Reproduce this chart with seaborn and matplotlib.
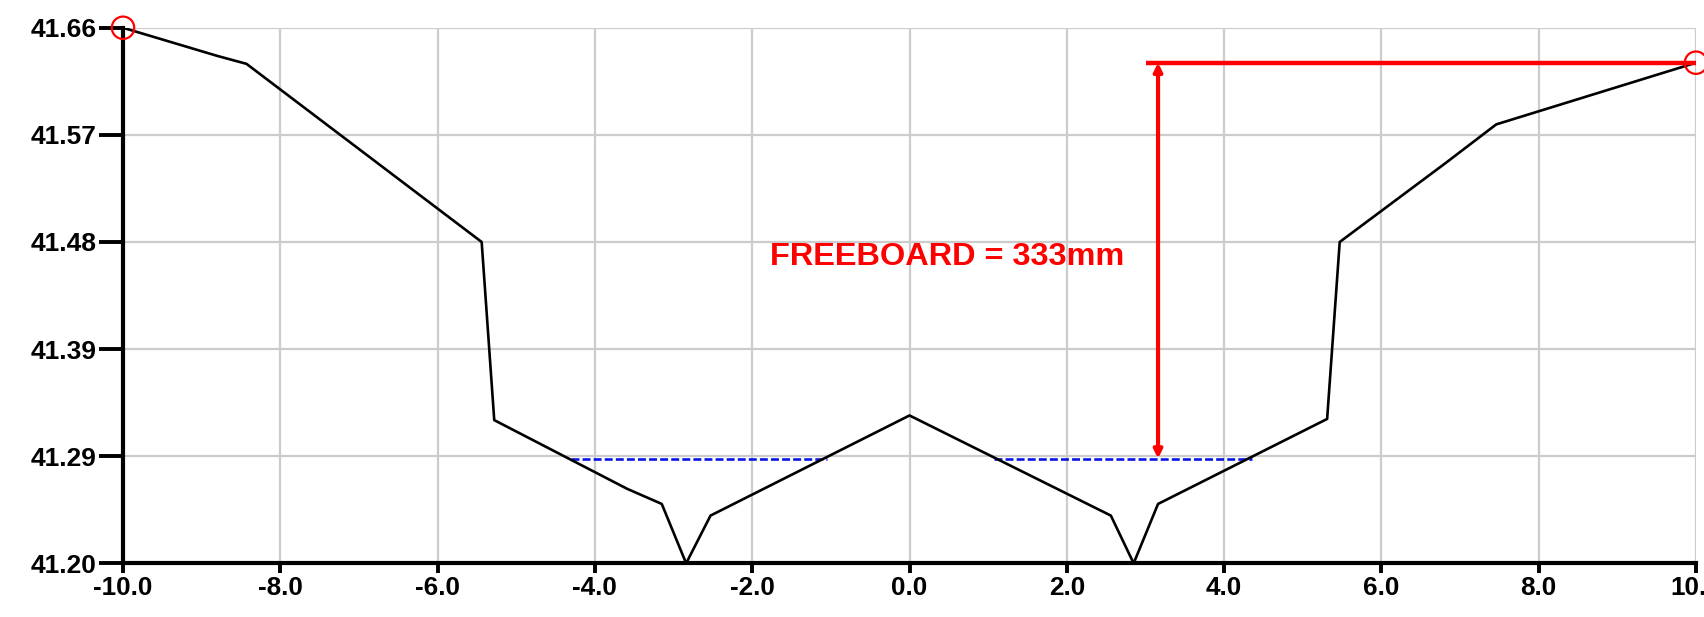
import numpy as np
import pandas as pd
import matplotlib
matplotlib.use("Agg")
import matplotlib.pyplot as plt
import seaborn as sns

# cross-section profile (chainage, level)
chainage = [-10.0, -8.81, -8.43, -5.44, -5.28, -3.59, -3.15, -2.84, -2.53, 0.0,
            2.56, 2.85, 3.16, 5.31, 5.47, 6.82, 7.46, 10.0]
level = [41.660, 41.636, 41.629, 41.476, 41.323, 41.264, 41.251, 41.200, 41.241, 41.327,
         41.241, 41.200, 41.251, 41.324, 41.476, 41.544, 41.577, 41.630]

# water surface segments
water_level = 41.29
water_start = [-4.31, 1.07]
water_end = [-1.05, 4.35]

# freeboard annotation
freeboard_x = 3.16
freeboard_top = 41.63
freeboard_line_start = 3.01
freeboard_text = "FREEBOARD = 333mm"

# end points (circled)
end_x = [-10.0, 10.0]
end_y = [41.66, 41.63]

x_ticks = [-10.0, -8.0, -6.0, -4.0, -2.0, 0.0, 2.0, 4.0, 6.0, 8.0, 10.0]
y_ticks = list(np.linspace(41.20, 41.66, 6))
y_labels = ["41.20", "41.29", "41.39", "41.48", "41.57", "41.66"]

sns.set_style("whitegrid")
plt.rcParams['font.family'] = ['Liberation Sans', 'DejaVu Sans']

df = pd.DataFrame({'chainage': chainage, 'level': level})

fig = plt.figure(figsize=(17.04, 6.17), dpi=100)
ax = fig.add_axes([0.0722, 0.087, 0.9231, 0.868])

for s, e in zip(water_start, water_end):
    ax.hlines(water_level, s, e, color='#0a14e6', lw=1.9, linestyles=(0, (3, 1.2)), zorder=3)

sns.lineplot(data=df, x='chainage', y='level', sort=False, color='black', lw=1.9, ax=ax, zorder=4)

# freeboard
ax.hlines(freeboard_top, freeboard_line_start, 10.0, color='#ff0000', lw=3.2, zorder=5, clip_on=False)
ax.annotate('', xy=(freeboard_x, freeboard_top), xytext=(freeboard_x, water_level),
            arrowprops=dict(arrowstyle='<|-|>', color='#ff0000', lw=3.0,
                            mutation_scale=12, shrinkA=0, shrinkB=0), zorder=5)
ax.text(-1.77, 41.463, freeboard_text, color='#ff0000', fontsize=23.4,
        fontweight='bold', va='center', ha='left', zorder=6)

sns.scatterplot(x=end_x, y=end_y, ax=ax, s=260, facecolors='none', edgecolors='#ff0000',
                linewidth=1.6, zorder=7, clip_on=False)

ax.set_xlim(-10, 10)
ax.set_ylim(41.20, 41.66)
ax.set_xticks(x_ticks)
ax.set_xticklabels([f"{v:.1f}" for v in x_ticks])
ax.set_yticks(y_ticks)
ax.set_yticklabels(y_labels)
ax.set_xlabel('')
ax.set_ylabel('')

ax.grid(True, color='#cccccc', lw=1.6)
for side in ['top', 'right']:
    ax.spines[side].set_visible(False)
for side in ['left', 'bottom']:
    ax.spines[side].set_color('black')
    ax.spines[side].set_linewidth(3.0)
    ax.spines[side].set_zorder(6)

ax.tick_params(axis='y', direction='out', length=17, width=2.8, color='black',
               labelsize=19, pad=2, left=True)
ax.tick_params(axis='x', direction='out', length=7, width=2.8, color='black',
               labelsize=18.8, pad=2, bottom=True)
for lab in ax.get_xticklabels() + ax.get_yticklabels():
    lab.set_fontweight('bold')
    lab.set_color('black')

fig.savefig('out.png', dpi=100)
